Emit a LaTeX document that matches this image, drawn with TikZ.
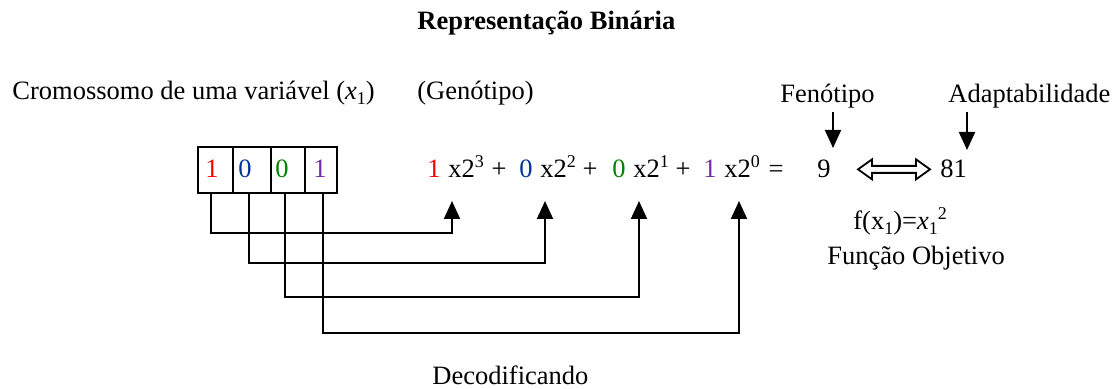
\documentclass[tikz,border=0pt]{standalone}
\usepackage{fontspec}
\setmainfont{Liberation Serif}
\definecolor{bitRed}{RGB}{255, 0, 0}
\definecolor{bitBlue}{RGB}{0, 51, 153}
\definecolor{bitGreen}{RGB}{0, 128, 0}
\definecolor{bitPurple}{RGB}{112, 48, 160}
\usepackage{tikz}
\usetikzlibrary{arrows.meta,calc}
\newcommand{\upidx}[1]{\raisebox{0.85ex}{\fontsize{9}{10}\selectfont #1}}
\newcommand{\dnidx}[1]{\raisebox{-0.4ex}{\fontsize{9}{10}\selectfont #1}}
\begin{document}
\begin{tikzpicture}[x=0.5pt,y=-0.5pt,
    every node/.style={font=\fontsize{13.25}{16}\selectfont,inner sep=0pt},
    cell/.style={draw,line width=1pt,minimum height=23pt},
    wire/.style={line width=1pt,-{Triangle[width=8pt,length=9pt]}}]
    \useasboundingbox (0,0) rectangle (1117,389);
    % titles
    \node[anchor=base west,font=\fontsize{13.25}{16}\selectfont\bfseries] (title) at (417,30) {Representação Binária};
    \node[anchor=base west] (crom) at (12,100) {Cromossomo de uma variável (\textit{x}\dnidx{1})};
    \node[anchor=base west] (geno) at (417,100) {(Genótipo)};
    \node[anchor=base west] (fen) at (780,103) {Fenótipo};
    \node[anchor=base west] (adapt) at (948,103) {Adaptabilidade};
    % chromosome
    \foreach \i/\cx/\w/\bx/\col/\d in {1/215.5/17.5pt/212/bitRed/1, 2/252/19pt/245/bitBlue/0, 3/288/17pt/282/bitGreen/0, 4/321/16pt/320/bitPurple/1} {
        \node[cell,minimum width=\w] (c\i) at (\cx,170) {};
        \node[text=\col,anchor=base] (b\i) at (\bx,178) {\d};
    }
    % decoding sum
    \foreach \i/\tx/\col/\d/\e in {1/434/bitRed/1/3, 2/526/bitBlue/0/2, 3/619/bitGreen/0/1, 4/710/bitPurple/1/0} {
        \node[text=\col,anchor=base] (t\i) at (\tx,178) {\d};
        \node[anchor=base west] (p\i) at (\tx+14,178) {x2\upidx{\e}};
    }
    \foreach \px [count=\k] in {499,590,683}
        \node[anchor=base] (plus\k) at (\px,178) {+};
    \node[anchor=base] (eq) at (776,178) {=};
    \node[anchor=base] (n9) at (824,178) {9};
    \node[anchor=base west] (n81) at (940,178) {81};
    \node[anchor=base west] (fobj) at (853,230) {f(x\dnidx{1})=\textit{x}\dnidx{1}\upidx{2}};
    \node[anchor=base west] (fname) at (827,265) {Função Objetivo};
    \node[anchor=base west] (dec) at (432,384) {Decodificando};
    % bit lines
    \foreach \i/\dx/\ax/\lv in {1/-2.25pt/452/233, 2/-1.5pt/545/263, 3/-1.5pt/639/297, 4/1pt/739/333} {
        \coordinate (a\i) at (\ax,201);
        \draw[wire] ([xshift=\dx]c\i.south) |- (a\i |- 0,\lv) -- (a\i);
    }
    % phenotype and fitness
    \coordinate (a9) at (833,148);
    \coordinate (a81) at (967,150);
    \draw[wire,shorten <=1.5pt] (fen.south -| a9) -- (a9);
    \draw[wire,shorten <=1.5pt] (adapt.south -| a81) -- (a81);
    \draw[line width=0.9pt,line join=miter] ([xshift=13.5pt]n9.east) -- ++(14,-10) -- ++(0,6.5) -- ++(44,0) -- ++(0,-6.5) -- ++(14,10)
        -- ++(-14,10) -- ++(0,-6.5) -- ++(-44,0) -- ++(0,6.5) -- cycle;
\end{tikzpicture}
\end{document}
